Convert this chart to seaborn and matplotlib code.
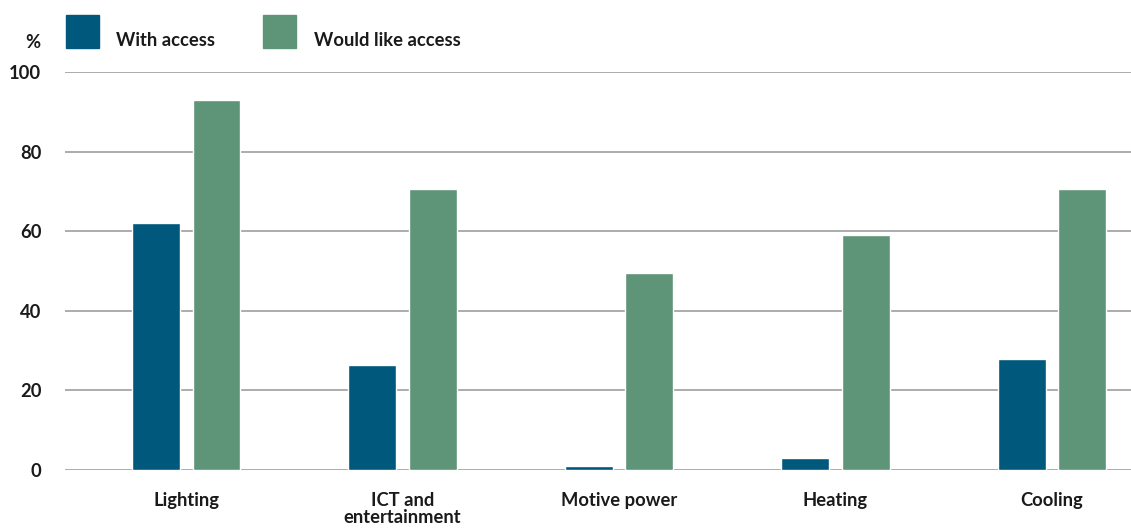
import matplotlib
matplotlib.use('Agg')
import matplotlib.pyplot as plt
import seaborn as sns
import pandas as pd

categories = ['Lighting', 'ICT and\nentertainment', 'Motive power', 'Heating', 'Cooling']
with_access = [62, 26.5, 1, 3, 28]
would_like = [93, 70.5, 49.5, 59, 70.5]
series = ['With access', 'Would like access']
yticks = [0, 20, 40, 60, 80, 100]

COLORS = {'With access': '#00587c', 'Would like access': '#5e9579'}
TXT = '#1a1a1a'
FS = 13.2

df = pd.DataFrame({
    'category': categories * 2,
    'value': with_access + would_like,
    'series': [series[0]] * len(categories) + [series[1]] * len(categories),
})

sns.set_style('white')
plt.rcParams['font.family'] = ['Lato', 'DejaVu Sans']

W, H = 1131, 528
fig = plt.figure(figsize=(W / 100, H / 100), dpi=100)
ax = fig.add_axes([65 / W, 1 - 470 / H, 1 - 65 / W, (470 - 72) / H])

sns.barplot(data=df, x='category', y='value', hue='series', palette=COLORS,
            order=categories, hue_order=series, width=0.56, gap=0.21,
            saturation=1, ax=ax, zorder=3, legend=False)

ax.set_ylim(0, 100)
ax.set_xlim(-0.56, 4.365)
ax.set_yticks(yticks)
ax.yaxis.grid(True, color='#a6a6a6', lw=1.3, zorder=0)
ax.set_axisbelow(True)
for s in ax.spines.values():
    s.set_visible(False)
ax.tick_params(axis='both', length=0, labelsize=FS, colors=TXT)
ax.tick_params(axis='y', pad=17)
ax.tick_params(axis='x', pad=16)
for lab in ax.get_xticklabels() + ax.get_yticklabels():
    lab.set_fontweight('bold')
for lab in ax.get_xticklabels():
    lab.set_linespacing(0.95)
ax.set_xlabel('')
ax.set_ylabel('')

# legend: squares with labels sitting a bit lower
legend_pos = [(66, 116), (263, 314)]
for s, (sx, tx) in zip(series, legend_pos):
    fig.patches.append(plt.Rectangle((sx / W, 1 - 48 / H), 33 / W, 33 / H,
                                     transform=fig.transFigure, color=COLORS[s]))
    fig.text(tx / W, 1 - 41 / H, s, ha='left', va='center', fontsize=FS,
             fontweight='bold', color=TXT)

fig.text(33 / W, 1 - 42 / H, '%', ha='center', va='center', fontsize=FS,
         fontweight='bold', color=TXT)

fig.savefig('out.png', dpi=100)
